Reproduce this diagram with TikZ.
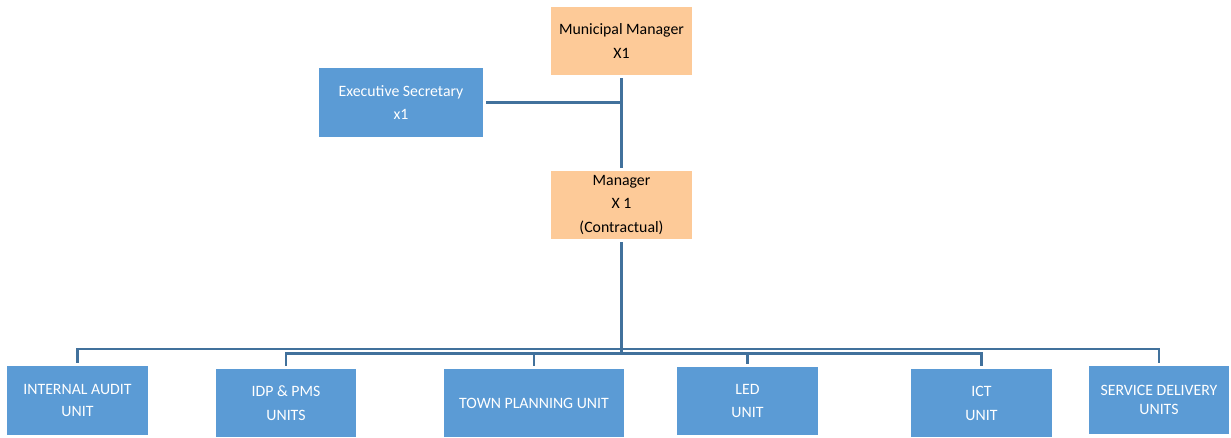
\documentclass[tikz,border=0pt]{standalone}
\usepackage{fontspec}
\setmainfont{Carlito}
\definecolor{unitblue}{HTML}{5B9BD5}
\definecolor{mgrpeach}{HTML}{FDCA98}
\definecolor{linkblue}{HTML}{41719C}
\tikzset{
  bluebox/.style={fill=unitblue, text=white, align=center, inner sep=0pt,
    font=\fontsize{9}{13.6}\selectfont},
  peachbox/.style={fill=mgrpeach, text=black, align=center, inner sep=0pt,
    font=\fontsize{9}{13.6}\selectfont},
  orgline/.style={draw=linkblue, line width=1.6pt, shorten <=1.7pt, shorten >=1.7pt}
}
\begin{document}
\begin{tikzpicture}[x=0.02cm, y=-0.02cm]
			\useasboundingbox (0, 0) rectangle (1231, 437);

			% top of the chart
			\node [peachbox, minimum width=2.82cm, minimum height=1.36cm] (mm) at (621.5, 41)
			{Municipal Manager\\X1};
			\node [bluebox, minimum width=3.28cm, minimum height=1.38cm] (es) at (401, 102.5)
			{Executive Secretary\\x1};
			\node [peachbox, minimum width=2.82cm, minimum height=1.36cm] (mgr) at (621.5, 205)
			{Manager\\X 1\\(Contractual)};

			% units
			\node [bluebox, minimum width=2.82cm, minimum height=1.38cm,
			font=\fontsize{9}{12.5}\selectfont] (ia) at (77.5, 400.5) {INTERNAL AUDIT\\UNIT};
			\node [bluebox, minimum width=2.80cm, minimum height=1.36cm] (idp) at (286, 403)
			{IDP \& PMS\\UNITS};
			\node [bluebox, minimum width=3.60cm, minimum height=1.36cm] (tp) at (534, 403)
			{TOWN PLANNING UNIT};
			\node [bluebox, minimum width=2.82cm, minimum height=1.36cm] (led) at (747.5, 401)
			{LED\\UNIT};
			\node [bluebox, minimum width=2.82cm, minimum height=1.36cm] (ict) at (981.5, 403)
			{ICT\\UNIT};
			\node [bluebox, minimum width=2.80cm, minimum height=1.36cm,
			font=\fontsize{9}{11.2}\selectfont] (sd) at (1159, 400) {SERVICE DELIVERY\\UNITS};

			\coordinate (bus1) at (0, 349);
			\coordinate (bus2) at (0, 353.5);

			% connectors
			\draw [orgline] (mm.south) -- (mgr.north);
			\draw [orgline, shorten >=0pt] (es.east) -- (es.east -| mm.south);
			\draw [orgline, shorten >=0pt] (mgr.south) -- (mgr.south |- bus2);
			\draw [orgline] (ia.north) |- (sd.north |- bus1) -- (sd.north);
			\draw [orgline] (idp.north) |- (ict.north |- bus2) -- (ict.north);
			\draw [orgline, shorten <=0pt] (tp.north |- bus2) -- (tp.north);
			\draw [orgline, shorten <=0pt] (led.north |- bus2) -- (led.north);
\end{tikzpicture}
\end{document}
